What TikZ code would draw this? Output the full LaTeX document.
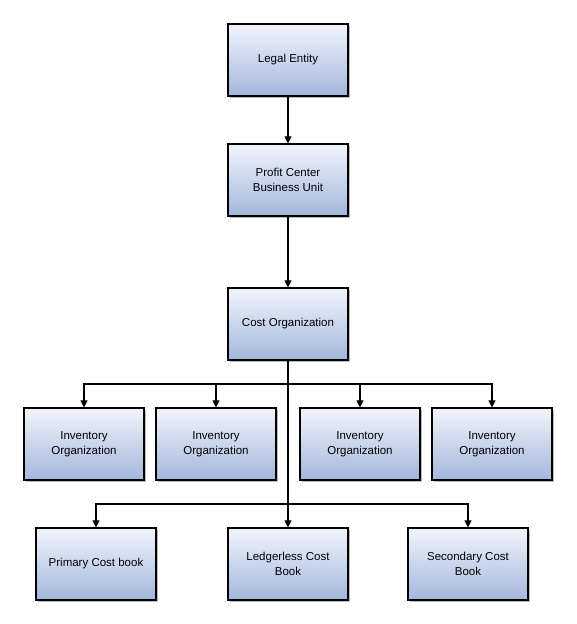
\documentclass[tikz,border=0pt]{standalone}
\usepackage{fontspec}
\setmainfont{Liberation Sans}
\usetikzlibrary{arrows.meta,shadows}
\definecolor{boxTop}{HTML}{F2F5FB}
\definecolor{boxBottom}{HTML}{A2B6DD}
\newcommand{\boxWidth}[0]{120pt}
\newcommand{\boxHeight}[0]{72pt}
\newcommand{\busOne}[0]{384}
\newcommand{\busTwo}[0]{504}

\begin{document}
\begin{tikzpicture}[x=1pt, y=-1pt]
  \tikzset{orgbox/.style={draw, line width=1.2pt, align=center, inner sep=2pt,
      minimum width=\boxWidth, minimum height=\boxHeight,
      top color=boxTop, bottom color=boxBottom,
      font=\fontsize{11.5}{15}\selectfont,
      drop shadow={shadow xshift=2pt, shadow yshift=-2pt, fill=black!45, opacity=0.6}},
    link/.style={line width=1.2pt, -{Triangle[length=7pt,width=7pt]}}}
  \useasboundingbox (0,0) rectangle (576,624);
  \node[orgbox] (LE) at (288,60) {Legal Entity};
  \node[orgbox] (PCBU) at (288,180) {Profit Center\\Business Unit};
  \node[orgbox] (CO) at (288,324) {Cost Organization};
  \foreach \x [count=\i] in {84,216,360,492}
    \node[orgbox] (IO-\i) at (\x,444) {Inventory\\Organization};
  \node[orgbox] (PCB) at (96,564) {Primary Cost book};
  \node[orgbox] (LCB) at (288,564) {Ledgerless Cost\\Book};
  \node[orgbox] (SCB) at (468,564) {Secondary Cost\\Book};
  \coordinate (bus-1) at (288,\busOne);
  \coordinate (bus-2) at (288,\busTwo);
  \draw[link] (LE) -- (PCBU);
  \draw[link] (PCBU) -- (CO);
  \draw[link] (CO) -- (LCB);
  \foreach \i in {1,...,4}
    \draw[link] (bus-1) -| (IO-\i);
  \draw[link] (bus-2) -| (PCB);
  \draw[link] (bus-2) -| (SCB);
\end{tikzpicture}
\end{document}
